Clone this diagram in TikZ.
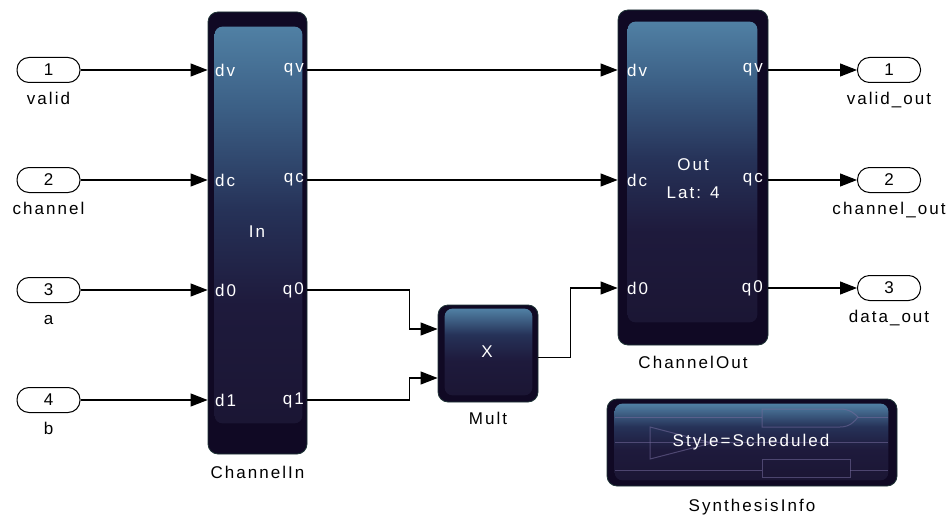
\documentclass[tikz,border=0pt]{standalone}
\usepackage{fontspec}
\newfontfamily\simfont[LetterSpace=12]{Liberation Sans}
\usetikzlibrary{arrows.meta, positioning}
\definecolor{blkedge}{RGB}{16,9,36}
\definecolor{blkrim}{RGB}{30,52,54}
\definecolor{blktop}{RGB}{80,128,164}
\definecolor{blkhigh}{RGB}{60,96,134}
\definecolor{blkmid}{RGB}{38,50,88}
\definecolor{blkdeep}{RGB}{30,26,60}
\definecolor{blkbot}{RGB}{27,22,52}
\definecolor{tracec}{RGB}{118,108,158}
% the path is fitted to the 25bp--75bp band
\pgfdeclareverticalshading{blkfade}{100bp}{color(0bp)=(blkbot); color(25bp)=(blkbot); color(40bp)=(blkdeep); color(52bp)=(blkmid); color(65bp)=(blkhigh); color(75bp)=(blktop); color(100bp)=(blktop)}
\pgfdeclareverticalshading{mulfade}{100bp}{color(0bp)=(blkbot); color(25bp)=(blkbot); color(45bp)=(blkdeep); color(60bp)=(blkmid); color(75bp)=(blktop); color(100bp)=(blktop)}
\newcommand{\blkfont}{\simfont\fontsize{17}{28}\selectfont}
\tikzset{
  blk/.style={fill=blkedge, draw=blkrim, line width=0.8pt, rounded corners=10pt, inner sep=0pt},
  blkbody/.style={shading=#1, rounded corners=8pt},
  blkbody/.default=blkfade,
  ioport/.style={draw, line width=1pt, rounded corners=12pt, minimum width=63pt,
                 minimum height=25pt, font=\blkfont, inner sep=0pt},
  plbl/.style={font=\blkfont, text=white, inner sep=0pt},
  blkcap/.style={font=\blkfont, inner sep=0pt, text height=12pt, text depth=3pt},
  sig/.style={-{Triangle[length=17pt,width=13pt]}, line width=1.1pt},
  tracelin/.style={draw=tracec, opacity=0.55, line width=1pt},
}

\begin{document}
\begin{tikzpicture}[x=1pt, y=-1pt]
  \useasboundingbox (0,0) rectangle (949,516);
  % input ports
  \node[ioport] (in1) at (48.5,70)  {1};
  \node[ioport] (in2) at (48.5,180) {2};
  \node[ioport] (in3) at (48.5,290) {3};
  \node[ioport] (in4) at (48.5,400) {4};
  \node[blkcap, below=9pt of in1] (in1-lbl) {valid};
  \node[blkcap, below=9pt of in2] (in2-lbl) {channel};
  \node[blkcap, below=9pt of in3] (in3-lbl) {a};
  \node[blkcap, below=9pt of in4] (in4-lbl) {b};
  % output ports
  \node[ioport] (out1) at (889,70)  {1};
  \node[ioport] (out2) at (889,180) {2};
  \node[ioport] (out3) at (889,288) {3};
  \node[blkcap, below=9pt of out1] (out1-lbl) {valid\_out};
  \node[blkcap, below=9pt of out2] (out2-lbl) {channel\_out};
  \node[blkcap, below=9pt of out3] (out3-lbl) {data\_out};
  % ChannelIn
  \node[blk, minimum width=99pt, minimum height=442pt] (cin) at (257.5,233) {};
  \shade[blkbody] ([xshift=7pt,yshift=-15pt]cin.north west) rectangle ([xshift=-5pt,yshift=31pt]cin.south east);
  \node[plbl] (cin-txt) at (257,232) {In};
  \node[plbl, anchor=west] (cin-dv) at (215,70)  {dv};
  \node[plbl, anchor=west] (cin-dc) at (215,180) {dc};
  \node[plbl, anchor=west] (cin-d0) at (215,290) {d0};
  \node[plbl, anchor=west] (cin-d1) at (215,400) {d1};
  \node[plbl, anchor=east] (cin-qv) at (304,70)  {qv};
  \node[plbl, anchor=east] (cin-qc) at (304,180) {qc};
  \node[plbl, anchor=east] (cin-q0) at (304,290) {q0};
  \node[plbl, anchor=east] (cin-q1) at (304,400) {q1};
  \node[blkcap, below=12pt of cin] (cin-lbl) {ChannelIn};
  % ChannelOut
  \node[blk, minimum width=150pt, minimum height=335pt] (cout) at (693,177.5) {};
  \shade[blkbody] ([xshift=10pt,yshift=-12pt]cout.north west) rectangle ([xshift=-11pt,yshift=23pt]cout.south east);
  \node[plbl, align=center] (cout-txt) at (693,179) {Out\\Lat: 4};
  \node[plbl, anchor=west] (cout-dv) at (627,70)  {dv};
  \node[plbl, anchor=west] (cout-dc) at (627,180) {dc};
  \node[plbl, anchor=west] (cout-d0) at (627,288) {d0};
  \node[plbl, anchor=east] (cout-qv) at (763,70)  {qv};
  \node[plbl, anchor=east] (cout-qc) at (763,180) {qc};
  \node[plbl, anchor=east] (cout-q0) at (763,288) {q0};
  \node[blkcap, below=11pt of cout] (cout-lbl) {ChannelOut};
  % Mult
  \node[blk, minimum width=100pt, minimum height=97pt] (mult) at (488,353.5) {};
  \shade[blkbody=mulfade] ([xshift=7pt,yshift=-4pt]mult.north west) rectangle ([xshift=-6pt,yshift=7pt]mult.south east);
  \node[plbl] (mult-txt) at (487,352) {X};
  \node[blkcap, below=10pt of mult] (mult-lbl) {Mult};
  \coordinate (mul-a) at ([yshift=24.5pt]mult.west);
  \coordinate (mul-b) at ([yshift=-24.5pt]mult.west);
  \coordinate (mul-o) at ([yshift=-4pt]mult.east);
  % SynthesisInfo
  \node[blk, minimum width=290pt, minimum height=87pt] (synth) at (752,442.5) {};
  \shade[blkbody=mulfade] ([xshift=8pt,yshift=-5pt]synth.north west) rectangle ([xshift=-9pt,yshift=6pt]synth.south east);
  \draw[tracelin] (615,417) -- (762,417) (858,417) -- (888,417);
  \draw[tracelin] (762,409) -- (840,409) .. controls (850,409) and (855,414) .. (858,417)
                  .. controls (855,421) and (850,427) .. (840,427) -- (762,427) -- cycle;
  \draw[tracelin] (615,442) -- (888,442);
  \draw[tracelin] (650,427) -- (650,459) -- (712,443) -- cycle;
  \draw[tracelin] (615,470) -- (762,470) (850,470) -- (888,470);
  \draw[tracelin] (762,459) rectangle (850,477);
  \node[plbl] (synth-txt) at (751,442) {Style=Scheduled};
  \node[blkcap, below=13pt of synth] (synth-lbl) {SynthesisInfo};
  % signals
  \draw[sig] (in1) -- (in1 -| cin.west);
  \draw[sig] (in2) -- (in2 -| cin.west);
  \draw[sig] (in3) -- (in3 -| cin.west);
  \draw[sig] (in4) -- (in4 -| cin.west);
  \draw[sig] (cin-qv -| cin.east) -- (cout-dv -| cout.west);
  \draw[sig] (cin-qc -| cin.east) -- (cout-dc -| cout.west);
  \draw[sig] (cin-q0 -| cin.east) -- ++(102,0) |- (mul-a);
  \draw[sig] (cin-q1 -| cin.east) -- ++(102,0) |- (mul-b);
  \draw[sig] (mul-o) -- ++(32,0) |- (cout-d0 -| cout.west);
  \draw[sig] (cout-qv -| cout.east) -- (out1);
  \draw[sig] (cout-qc -| cout.east) -- (out2);
  \draw[sig] (cout-q0 -| cout.east) -- (out3);
\end{tikzpicture}
\end{document}
